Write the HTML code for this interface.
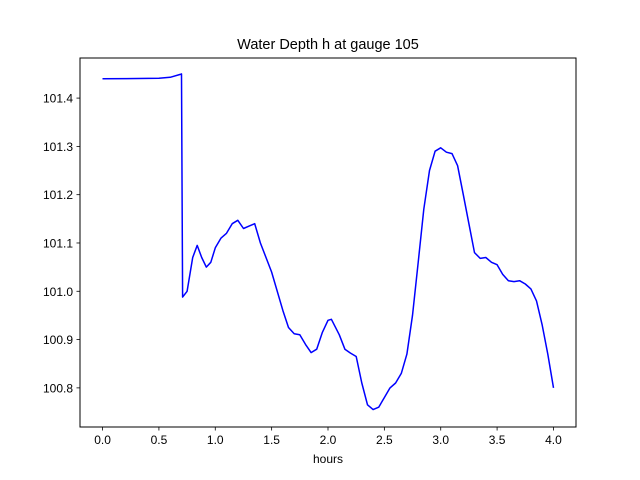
<!DOCTYPE html>
<html><head><meta charset="utf-8"><style>
body{margin:0;background:#fff}
svg{display:block;font-family:"Liberation Sans","DejaVu Sans",sans-serif}
</style></head><body>
<svg id="chart" width="640" height="480"></svg>
<script>
const xs=[0,0.5,0.6,0.69,0.70,0.71,0.75,0.8,0.84,0.88,0.92,0.96,1.0,1.05,1.1,1.15,1.2,1.25,1.3,1.35,1.4,1.5,1.6,1.65,1.7,1.75,1.8,1.85,1.9,1.95,2.0,2.03,2.1,2.15,2.2,2.25,2.3,2.35,2.4,2.45,2.5,2.55,2.6,2.65,2.7,2.75,2.8,2.85,2.9,2.95,3.0,3.05,3.1,3.15,3.2,3.25,3.3,3.35,3.4,3.45,3.5,3.55,3.6,3.65,3.7,3.75,3.8,3.85,3.9,3.95,4.0];
const depth=[101.44,101.441,101.443,101.449,101.45,100.988,101.0,101.07,101.095,101.07,101.05,101.06,101.09,101.11,101.12,101.14,101.147,101.13,101.135,101.14,101.1,101.04,100.96,100.925,100.912,100.91,100.89,100.873,100.88,100.915,100.94,100.942,100.91,100.88,100.872,100.865,100.81,100.765,100.755,100.76,100.78,100.8,100.81,100.83,100.87,100.95,101.06,101.17,101.25,101.29,101.297,101.288,101.285,101.26,101.2,101.14,101.08,101.068,101.07,101.06,101.055,101.035,101.022,101.02,101.022,101.015,101.005,100.98,100.93,100.87,100.8];
const xTicks=[0,0.5,1,1.5,2,2.5,3,3.5,4];
const xTickLabels=["0.0","0.5","1.0","1.5","2.0","2.5","3.0","3.5","4.0"];
const yTicks=[100.8,100.9,101.0,101.1,101.2,101.3,101.4];
const yTickLabels=["100.8","100.9","101.0","101.1","101.2","101.3","101.4"];

const L=80,R=576,T=58,B=427;
const x0=-0.2,x1=4.2,y0=100.719,y1=101.483;
const sx=v=>L+(v-x0)/(x1-x0)*(R-L);
const sy=v=>B-(v-y0)/(y1-y0)*(B-T);
const svg=document.getElementById('chart');
const NS='http://www.w3.org/2000/svg';
function mk(tag,attrs,parent){const e=document.createElementNS(NS,tag);for(const k in attrs)e.setAttribute(k,attrs[k]);(parent||svg).appendChild(e);return e;}

const line=mk('polyline',{points:xs.map((x,i)=>sx(x).toFixed(1)+','+sy(depth[i]).toFixed(1)).join(' '),fill:'none',stroke:'#0000ff','stroke-width':1.5,'stroke-linejoin':'round'});



const frame=mk('rect',{x:L,y:T,width:R-L,height:B-T,fill:'none',stroke:'#000','stroke-width':1});



xTicks.forEach((v,i)=>{
  const t=mk('line',{x1:sx(v),x2:sx(v),y1:B,y2:B+3.5,stroke:'#000','stroke-width':0.8});
  
  
  const l=mk('text',{x:sx(v),y:B+17,'font-size':12,'text-anchor':'middle'});
  l.textContent=xTickLabels[i];
  
  
});
yTicks.forEach((v,i)=>{
  const t=mk('line',{x1:L-3.5,x2:L,y1:sy(v),y2:sy(v),stroke:'#000','stroke-width':0.8});
  
  
  const l=mk('text',{x:L-7,y:sy(v)+4.5,'font-size':12,'text-anchor':'end'});
  l.textContent=yTickLabels[i];
  
  
});
const title=mk('text',{x:(L+R)/2,y:49,'font-size':14.5,'text-anchor':'middle'});
title.textContent='Water Depth h at gauge 105';


const xl=mk('text',{x:(L+R)/2,y:463,'font-size':12,'text-anchor':'middle'});
xl.textContent='hours';


</script>
</body></html>
